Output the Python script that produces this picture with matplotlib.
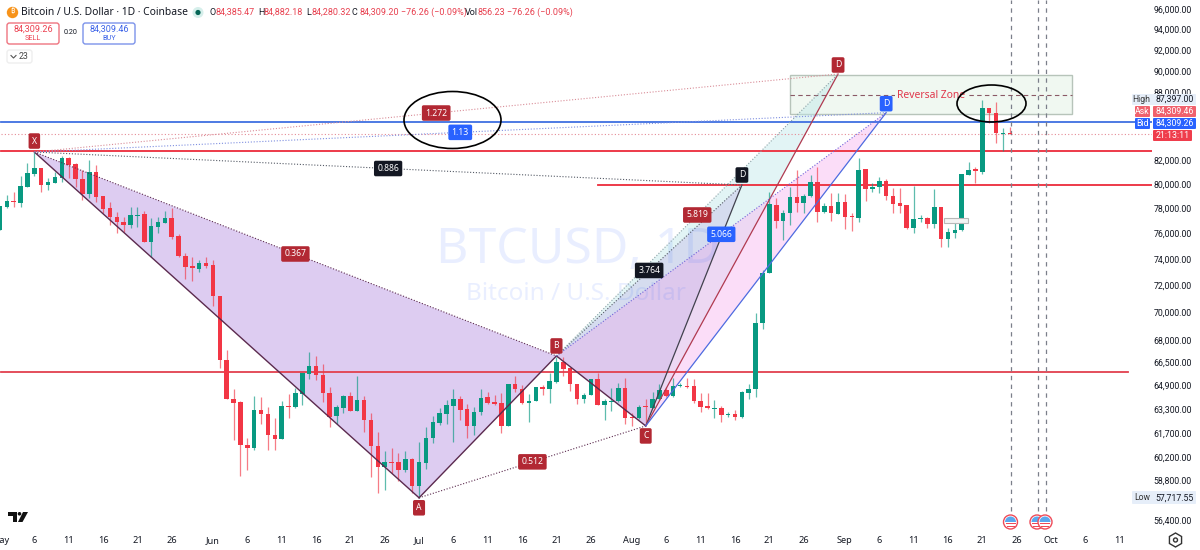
import numpy as np
import matplotlib
matplotlib.use("Agg")
import matplotlib.pyplot as plt
from matplotlib.patches import Rectangle, FancyBboxPatch, Ellipse, Circle, Wedge, Polygon

plt.rcParams['font.family'] = ['Noto Sans', 'DejaVu Sans']
NUM = ['Roboto', 'DejaVu Sans']

# ---------- data: days since 1 May ----------
opens = [76274,78120,78610,78450,79770,80850,81360,79930,80100,80510,
 82210,81700,80430,79190,81020,79020,78040,77310,76910,76670,
 77390,77550,75330,76510,76830,77230,75800,74240,73470,73240,
 73700,73550,71210,66620,63970,63770,60980,60790,63250,62980,
 61620,61370,63510,63440,64310,65660,66210,65590,64370,62850,
 63380,64170,63180,63910,62590,60920,59600,59910,59910,59420,
 60100,58440,59850,61430,62400,62980,63510,63970,63310,62200,
 63110,64100,63770,63710,62200,64980,64640,63710,63840,64780,
 64640,65110,66490,66070,64980,63970,64240,65320,63580,63770,
 63840,64710,62790,62720,63510,63380,63970,64580,64170,64850,
 64850,64850,63840,63510,63310,63380,62920,62980,62790,64370,
 64640,69240,72940,78290,76990,77640,78940,78450,79020,80180,
 77720,78200,77550,78530,77390,77230,81270,79600,79770,80260,
 79020,78450,78290,76430,77150,77230,76750,78120,75560,76040,
 76270,80770,81270,81020,86600,86150,84300,84385.47]
highs = [78204,79110,79350,80680,81780,82720,81360,80510,81020,82380,
 82300,81780,81190,82040,81610,79020,78530,77720,77310,78120,
 78120,77800,77230,77310,77800,78040,75960,74470,74160,73930,
 74160,73930,71210,67320,64640,63840,61430,64170,64100,63440,
 62720,63840,64310,64710,65730,67180,66900,66350,64780,63580,
 64240,64440,65520,64170,63050,61810,60600,60790,60480,60600,
 60160,61170,62140,62850,63380,63910,64640,64170,63640,63440,
 64640,64440,64240,64370,64980,65520,64910,64310,64780,64910,
 65730,66830,66830,66070,64980,64370,65320,65730,63970,64710,
 65050,65380,63050,63580,63970,64440,64980,64780,65380,65050,
 65380,65320,64370,64370,63910,63510,63110,63250,64510,64980,
 69960,73160,79350,78860,77880,79770,81190,79190,80770,81440,
 78450,79270,79270,79190,77640,82210,81270,80100,80600,80430,
 79680,79680,78290,79850,77470,77310,79600,78120,76430,77230,
 80850,81870,81440,87330,86600,87150,84820,84882.18]
lows = [76274,78040,78120,78120,79770,80680,79350,79517,80100,80180,
 80510,79770,78690,78860,78530,77640,76670,76040,76120,76430,
 76510,75330,74160,76040,76830,75560,74160,72480,72330,73010,
 73320,70470,66070,63970,61300,59050,59420,60670,62330,60670,
 60670,61370,62720,63380,63580,65320,65250,63770,62140,62330,
 63050,63180,63180,61810,58990,58010,58190,59230,58740,59290,
 58010,57717.55,59480,61110,62270,62330,61170,62590,61430,61620,
 62920,63640,63580,61750,62200,64440,63640,62460,63840,64240,
 63710,65050,65520,64510,63640,63710,64240,63580,62590,63180,
 63770,62330,62200,62660,62270,63380,63910,64100,64100,64780,
 64710,63710,63110,63310,62720,62460,62790,62590,62720,63970,
 64100,68810,72940,76430,75490,76670,77720,77640,78940,76910,
 77640,76990,77550,76350,76200,76910,78610,79350,79270,78690,
 77640,77640,76350,76040,76910,76430,76430,74940,74940,75640,
 76200,80770,80100,80850,85260,83500,82810,84280.32]
closes = [78204,78610,78530,79850,80930,81360,79930,80180,80600,82210,
 81610,80430,79190,81020,78940,77960,77310,76910,76670,77470,
 77470,75330,76590,76910,77230,75720,74240,73390,73320,73700,
 73470,71210,66620,63970,63710,60980,60790,63250,62980,61620,
 61370,63510,63440,64370,65730,66210,65590,64370,62790,63440,
 64170,63180,63910,62590,60920,59600,59910,59850,59420,60100,
 58440,59910,61430,62460,63050,63580,63970,63250,62200,63110,
 64040,63710,63640,62200,64980,64640,63710,63840,64780,64640,
 65180,66490,66000,64980,63970,64240,65320,63580,63840,63840,
 64710,62720,62720,63440,63440,63970,64580,64170,64850,64910,
 64780,63840,63440,63380,63380,62920,62980,62790,64440,64640,
 69240,72940,78370,76990,77640,78940,78450,79020,80180,77720,
 78200,77640,78530,77310,77310,81190,79600,79770,80260,79020,
 78370,78200,76430,77150,77230,76750,78120,75560,76120,76270,
 80850,81190,81100,86600,86150,84380,84380,84309.20]

tick_days = [0,5,10,15,20,25,31,36,41,46,51,56,61,66,71,76,81,86,92,97,102,107,112,117,
             123,128,133,138,143,148,153,158,163]
tick_names = ['May','6','11','16','21','26','Jun','6','11','16','21','26','Jul','6','11','16','21','26',
              'Aug','6','11','16','21','26','Sep','6','11','16','21','26','Oct','6','11']
month_names = ['May','Jun','Jul','Aug','Sep','Oct']
price_ticks = [96000,94000,92000,90000,88000,82000,80000,78000,76000,74000,72000,70000,68000,
               66500,64900,63300,61700,60200,58800,56400]

# harmonic pattern pivots (day, price)
X = (5, 82720); A = (61, 57717.55); B = (81, 66900); C = (94, 62200)
D_black = (108, 79930); D_red = (122, 89720); D_blue = (129, 86180)

level_upper = 82810
level_mid = 79930
level_lower = 65790
level_blue = 85305
last_close = 84309.20
zone_top, zone_mid, zone_bottom = 89620, 87750, 86090
zone_days = (115, 156)
event_days = [147.2, 151.1, 152.2]

RED, GREEN = '#f23645', '#089981'
BADGE_RED, BADGE_BLUE, BADGE_BLACK = '#b22833', '#2962ff', '#131722'

fig = plt.figure(figsize=(12, 5.5), dpi=100, facecolor='white')
W, H = 1200, 550
ax = fig.add_axes([0, (H-530)/H, 1152/W, 530/H])
ax.set_yscale('log')
ax.set_xlim(0.1745, 167.7)
ax.set_ylim(55814, 96903)
for s in ax.spines.values():
    s.set_visible(False)
ax.minorticks_off()
ax.yaxis.tick_right()
ax.set_yticks(price_ticks)
ax.set_yticklabels([f'{p:,.2f}' for p in price_ticks], fontsize=6.3, family=NUM, color='#131722', ha='right')
ax.yaxis.set_minor_locator(matplotlib.ticker.NullLocator())
ax.tick_params(axis='y', length=0, pad=28.8)
ax.set_xticks(tick_days)
ax.set_xticklabels(tick_names, fontsize=6.6, color='#131722')
ax.tick_params(axis='x', length=0, pad=4.5)
for lab in ax.get_xticklabels():
    if lab.get_text() in month_names:
        lab.set_fontweight('bold')
ax.grid(False)

# ---------- overlay in image pixels: interface furniture ----------
ov = fig.add_axes([0, 0, 1, 1], zorder=10)
ov.set_xlim(0, W); ov.set_ylim(H, 0); ov.axis('off'); ov.patch.set_alpha(0)

# watermark: over the fills, under the candles
ax.text(578, 250, 'BTCUSD, 1D', transform=ov.transData, fontsize=36, color='#2962ff', alpha=0.1,
        ha='center', va='center', zorder=1.6, clip_on=False)
ax.text(576, 294, 'Bitcoin / U.S. Dollar', transform=ov.transData, fontsize=17.5, color='#2962ff', alpha=0.1,
        ha='center', va='center', zorder=1.6, clip_on=False)

# zone
zx0, zx1 = zone_days
ax.add_patch(Rectangle((zx0, zone_bottom), zx1-zx0, zone_top-zone_bottom, fc='#f0f8f1', ec='#b7c4ba', lw=1, zorder=1))
ax.plot(zone_days, [zone_mid, zone_mid], color='#8a5a66', lw=0.8, ls=(0, (4, 3)), zorder=2)

# pattern fills
def tri(pts, **kw):
    ax.fill([p[0] for p in pts], [p[1] for p in pts], lw=0, **kw)
tri([X, A, B], fc='#b48fe0', alpha=0.45, zorder=1.2)
tri([B, C, D_red], fc='#bfe8ea', alpha=0.45, zorder=1.3)
tri([B, C, D_blue], fc='#f9bdf3', alpha=0.5, zorder=1.4)
tri([B, C, D_black], fc='#b9a6e2', alpha=0.3, zorder=1.5)

# levels
ax.plot([0.1745, 167.7], [last_close]*2, color='#e58b95', lw=0.8, ls=(0, (1, 2)), zorder=2)
ax.plot([0.1745, 167.7], [level_blue]*2, color='#3f6fe0', lw=1.3, zorder=2.5)
ax.plot([0.1745, 167.7], [level_upper]*2, color='#ec2b3a', lw=1.3, zorder=2.5)
ax.plot([87, 167.7], [level_mid]*2, color='#ec2b3a', lw=1.3, zorder=2.5)
ax.plot([0.1745, 164.2], [level_lower]*2, color='#e2404e', lw=1.3, zorder=2.5)

# candles
days = np.arange(len(opens))
o, hi, lo, c = map(np.array, (opens, highs, lows, closes))
up = c >= o
cols = np.where(up, GREEN, RED)
ax.vlines(days, lo, hi, colors=cols, lw=0.9, alpha=0.65, zorder=3)
b0 = np.minimum(o, c); b1 = np.maximum(o, c)
for d, a0, a1, col in zip(days, b0, b1, cols):
    top = max(a1, a0*1.0006)
    ax.fill_between([d-0.33, d+0.33], a0, top, color=col, lw=0, zorder=3.2)

# events
for e in event_days:
    ax.plot([e, e], [56900, 96903], color='#7b7f8a', lw=0.9, ls=(0, (3.5, 3.5)), zorder=2.6)

# pattern lines
def seg(p, q, **kw):
    ax.plot([p[0], q[0]], [p[1], q[1]], zorder=4, **kw)
DOT = (0, (1, 1.6))
solid = dict(color='#5b2a4e', lw=1.0)
seg(X, A, **solid); seg(A, B, **solid); seg(B, C, **solid)
dots = dict(color='#5b2a4e', lw=0.8, ls=DOT)
seg(X, B, **dots); seg(A, C, **dots)
seg(C, D_black, color='#41414d', lw=0.9)
seg(C, D_red, color='#b03a50', lw=0.9)
seg(C, D_blue, color='#4d6be0', lw=0.9)
seg(B, D_black, color='#555b66', lw=0.8, ls=DOT)
seg(B, D_red, color='#8aa0a5', lw=0.8, ls=DOT)
seg(B, D_blue, color='#6f62d8', lw=0.8, ls=DOT)
seg(X, D_black, color='#555b66', lw=0.8, ls=DOT)
seg(X, D_red, color='#d98d98', lw=0.8, ls=DOT)
seg(X, D_blue, color='#7f8fe0', lw=0.8, ls=DOT)

def badge(xy, txt, col, off=(0, 0), fs=6.2):
    ax.annotate(txt, xy=xy, xytext=off, textcoords='offset pixels', ha='center', va='center',
                color='white', fontsize=fs, fontweight='bold', zorder=6,
                bbox=dict(boxstyle='round,pad=0.38,rounding_size=0.2', fc=col, ec='none'))

def mid(p, q):
    return ((p[0]+q[0])/2, np.sqrt(p[1]*q[1]))

badge(mid(X, B), '0.367', BADGE_RED)
badge(mid(X, D_red), '1.272', BADGE_RED)
badge(mid(X, D_blue), '1.13', BADGE_BLUE)
badge(mid(X, D_black), '0.886', BADGE_BLACK)
badge(mid(B, D_red), '5.819', BADGE_RED)
badge(mid(B, D_blue), '5.066', BADGE_BLUE)
badge(mid(B, D_black), '3.764', BADGE_BLACK)
badge(mid(A, C), '0.512', BADGE_RED)
badge(X, 'X', BADGE_RED, (0, 11))
badge(A, 'A', BADGE_RED, (0, -10))
badge(B, 'B', BADGE_RED, (0, 10))
badge(C, 'C', BADGE_RED, (0, -10))
badge(D_black, 'D', BADGE_BLACK, (0, 10))
badge(D_red, 'D', BADGE_RED, (0, 9))
badge(D_blue, 'D', BADGE_BLUE, (0, 9))

# ellipses
ov.add_patch(Ellipse((452.5, 120), 97, 57, fc='none', ec='black', lw=1.2, zorder=5))
ov.add_patch(Ellipse((991.5, 103.5), 69, 37, fc='none', ec='black', lw=1.2, zorder=5))
ov.text(931, 95, 'Reversal Zone', color='#e0364a', fontsize=7.4, fontweight='bold', ha='center', va='center',
        zorder=1, bbox=dict(fc='#f0f8f1', ec='none', pad=1))
ov.add_patch(Rectangle((944, 218), 24, 4.5, fc='#f4f4f4', ec='#b8b8b8', lw=0.8))

# header
ov.add_patch(Circle((12.5, 12.5), 5.7, fc='#f7931a', ec='none'))
ov.text(12.5, 12.3, '₿', color='white', fontsize=5.5, ha='center', va='center', fontweight='bold')
ov.text(21, 12.5, 'Bitcoin / U.S. Dollar · 1D · Coinbase', fontsize=7.4, color='#131722', va='center')
ov.add_patch(Circle((198, 12.5), 5.5, fc='#d6efeb', ec='none'))
ov.add_patch(Circle((198, 12.5), 2.6, fc='#056656', ec='none'))
HF = dict(fontsize=6.5, family=NUM, va='center')
for xl, letter, xv, val in [(209, 'O', 216, '84,385.47'), (258, 'H', 264, '84,882.18'),
                            (306, 'L', 311, '84,280.32'), (352, 'C', 359, '84,309.20')]:
    ov.text(xl, 12.5, letter, color='#131722', **HF)
    ov.text(xv, 12.5, val, color='#e8404f', **HF)
ov.text(401, 12.5, '−76.26 (−0.09%)', color='#e8404f', **HF)
ov.text(465, 12.5, 'Vol', color='#131722', **HF)
ov.text(477, 12.5, '856.23', color='#e8404f', **HF)
ov.text(507, 12.5, '−76.26 (−0.09%)', color='#e8404f', **HF)

def box(x0, y0, x1, y1, ec, fc='white', lw=1.0, r=2.5):
    ov.add_patch(FancyBboxPatch((x0+r, y0+r), x1-x0-2*r, y1-y0-2*r,
                                boxstyle=f'round,pad={r},rounding_size={r}', fc=fc, ec=ec, lw=lw))

TF = dict(family=NUM, ha='center', va='center')
box(7, 23, 59, 44, '#ee7480')
ov.text(33, 29, '84,309.26', fontsize=6.5, color='#ec4050', **TF)
ov.text(33, 38.5, 'SELL', fontsize=5.2, color='#ec4050', **TF)
ov.text(71, 33, '0.20', fontsize=5.2, color='#131722', **TF)
box(83, 23, 135, 44, '#7c93ea')
ov.text(109, 29, '84,309.46', fontsize=6.5, color='#3c63e8', **TF)
ov.text(109, 38.5, 'BUY', fontsize=5.2, color='#3c63e8', **TF)
box(7, 50, 32, 63, '#eeeeee')
ov.plot([11, 13.5, 16], [55.5, 58, 55.5], color='#555', lw=0.8)
ov.text(24, 56.5, '23', fontsize=6.3, color='#444', **TF)

# price tags
def tag(x0, x1, y0, y1, txt, fc, col):
    ov.add_patch(FancyBboxPatch((x0+1, y0+1), x1-x0-2, y1-y0-2,
                                boxstyle='round,pad=1,rounding_size=1', fc=fc, ec='none'))
    ov.text((x0+x1)/2, (y0+y1)/2, txt, fontsize=6.3, color=col, **TF)

tag(1132, 1196, 94, 105, '', '#e6eef9', '#131722')
ov.text(1141, 99.5, 'High', fontsize=6.2, color='#333', **TF)
ov.text(1175, 99.5, '87,397.00', fontsize=6.3, color='#131722', **TF)
tag(1135, 1150, 106, 117, 'Ask', '#f0616d', 'white')
tag(1153, 1196, 106, 117, '84,309.46', '#f0616d', 'white')
tag(1135, 1150, 118, 129, 'Bid', '#2962ff', 'white')
tag(1153, 1196, 118, 129, '84,309.26', '#2962ff', 'white')
tag(1153, 1192, 130, 141, '21:13:11', '#ef3d4c', 'white')
tag(1132, 1196, 491, 504, '', '#e6eef9', '#131722')
ov.text(1142, 498, 'Low', fontsize=6.2, color='#333', **TF)
ov.text(1175, 498, '57,717.55', fontsize=6.3, color='#131722', **TF)

# US event markers
for xc in (1010.5, 1037, 1045):
    ov.add_patch(Circle((xc, 522), 7, fc='white', ec='#ee4a58', lw=1.0))
    ov.add_patch(Wedge((xc, 522), 5.5, 180, 360, fc='#5aa8ee', ec='none'))
    ov.add_patch(Rectangle((xc-5, 523), 10, 1.2, fc='#ee4a58', ec='none'))
    ov.add_patch(Rectangle((xc-4, 525.5), 8, 1.0, fc='#ee4a58', ec='none'))

# logo and gear
ov.add_patch(Polygon([(8, 512), (17, 512), (17, 522), (13, 522), (13, 516), (8, 516)], fc='#111', ec='none'))
ov.add_patch(Circle((19.5, 513.8), 1.8, fc='#111', ec='none'))
ov.add_patch(Polygon([(23, 512), (28, 512), (22.5, 522), (18, 522)], fc='#111', ec='none'))
ov.add_patch(Polygon([(1175.5+7*np.cos(t), 540+7*np.sin(t)) for t in np.arange(6)*np.pi/3+np.pi/6],
                     fc='none', ec='#333', lw=1))
ov.add_patch(Circle((1175.5, 540), 2, fc='none', ec='#333', lw=1))

ax.patch.set_alpha(0)
fig.savefig('out.png', dpi=100)
